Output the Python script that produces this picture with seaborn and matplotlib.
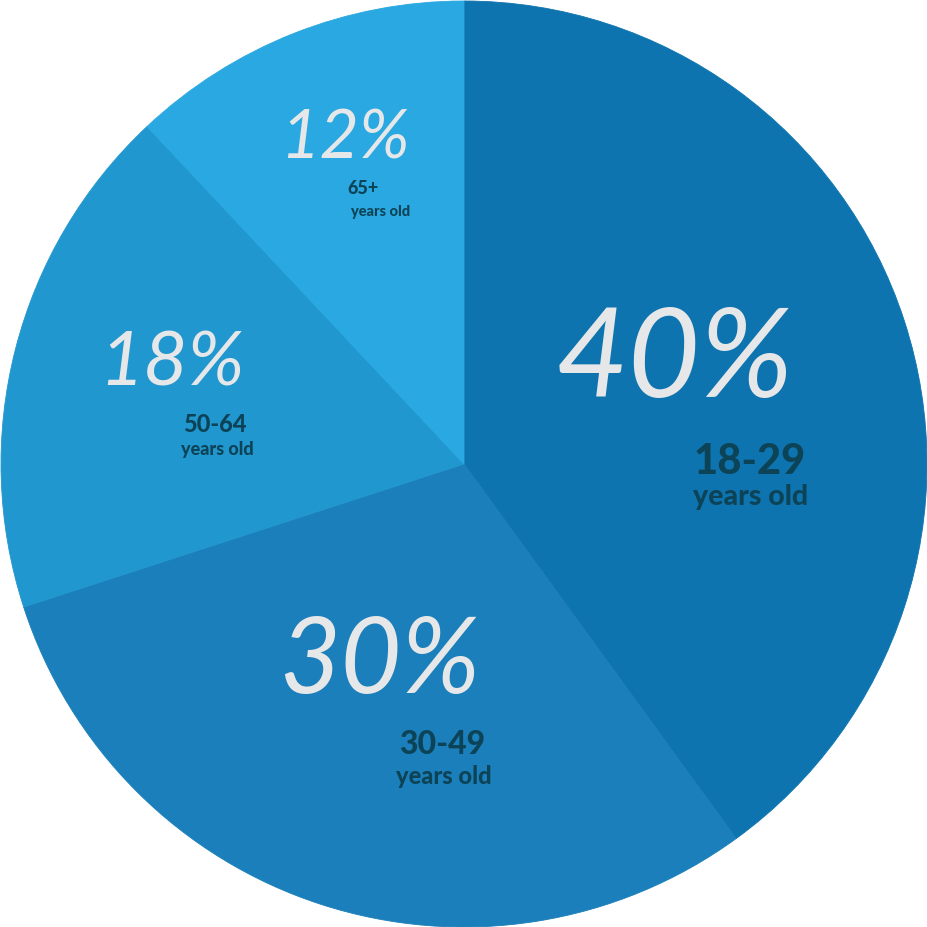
import matplotlib
matplotlib.use("Agg")
import matplotlib.pyplot as plt
import seaborn as sns

# Data
age_groups = ["18-29", "30-49", "50-64", "65+"]
shares = [40, 30, 18, 12]
sublabel = "years old"

# Styles
colors = ["#0E74AF", "#1A7FBA", "#2197D0", "#29A8E1"]
pct_color = "#E6E7E8"
lab_color = "#0D4357"

sns.set_theme(style="white")
plt.rcParams["font.family"] = ["Lato", "DejaVu Sans"]

W, H = 928, 927
fig = plt.figure(figsize=(W / 100, H / 100), dpi=100)
ax = fig.add_axes([0, 0, 1, 1])
wedges, _ = ax.pie(shares, colors=colors, startangle=90, counterclock=False,
                   center=(464, H - 464), radius=463,
                   wedgeprops=dict(linewidth=0.6))
for w, c in zip(wedges, colors):
    w.set_edgecolor(c)
ax.set_xlim(0, W)
ax.set_ylim(0, H)
ax.set_aspect("equal")
ax.axis("off")

# text layout (pixel coords from top-left): pct pos, pct size, label pos, label size, sub pos, sub size
layout = [
    ((675, 362), 90, (750, 462), 30, (751, 497), 20.5),
    ((380, 662), 76, (442, 745), 23, (444, 776), 17),
    ((172, 364), 55, (215, 425), 17, (217, 449), 13),
    ((345, 139), 49, (363, 188), 13, (381, 212), 10.5),
]
for v, g, (pp, ps, lp, ls, sp, ss) in zip(shares, age_groups, layout):
    ax.text(pp[0], H - pp[1], f"{v}%", ha="center", va="center",
            fontsize=ps, style="italic", fontweight="normal", color=pct_color)
    ax.text(lp[0], H - lp[1], g, ha="center", va="center",
            fontsize=ls, fontweight="black", color=lab_color)
    ax.text(sp[0], H - sp[1], sublabel, ha="center", va="center",
            fontsize=ss, fontweight="black", color=lab_color)

fig.savefig("out.png", dpi=100, facecolor="white")
